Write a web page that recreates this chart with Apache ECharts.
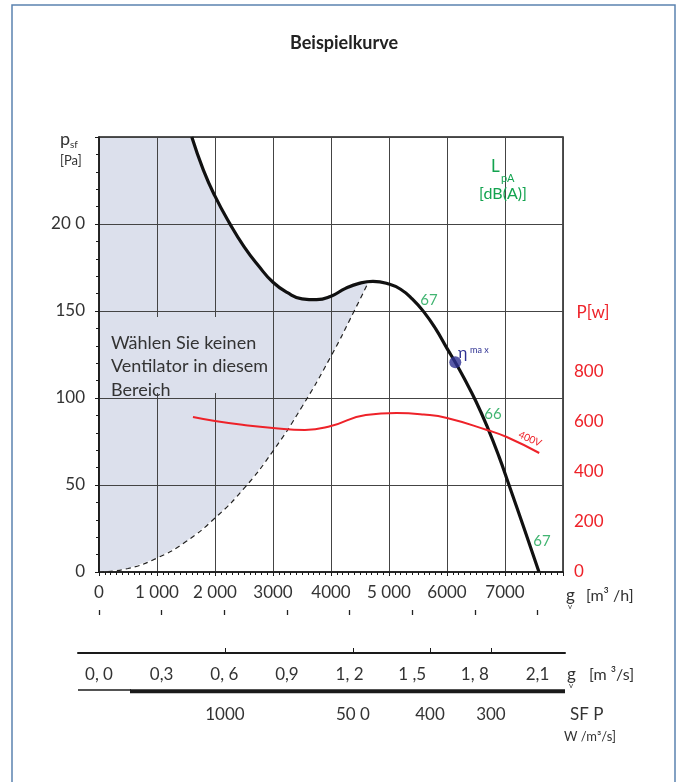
<!DOCTYPE html>
<html><head><meta charset="utf-8">
<script src="https://cdn.jsdelivr.net/npm/echarts@6/dist/echarts.min.js"></script>
<style>html,body{margin:0;padding:0;background:#fff}#c{width:682px;height:782px}</style>
</head><body><div id="c"></div>
<script>
// ---------- data ----------
const flowTickLabels = ['0', '1 000', '2 000', '3000', '4000', '5 000', '6000', '7000'];
const pressTickValues = [0, 50, 100, 150, 200];
const pressTickLabels = ['0', '50', '100', '150', '20 0'];
const powerTickValues = [0, 200, 400, 600, 800];

const fanFlow  = [1600, 1800, 2000, 2250, 2500, 2750, 3000, 3250, 3500, 3750, 4000, 4250, 4500, 4724, 5000, 5200, 5400, 5600, 5800, 6000, 6143, 6300, 6500, 6700, 6900, 7069, 7330, 7586];
const fanPress = [250, 231, 216, 200.5, 187, 176, 166.5, 160.5, 157, 156.5, 158.5, 163, 166, 167, 165.5, 162.5, 157, 149.5, 140, 128.5, 120.5, 111, 98, 83, 66, 50, 25, 0];

const limitFlow  = [0, 500, 1000, 1500, 2000, 2500, 3000, 3500, 4000, 4400, 4650];
const limitPress = [0, 2, 8, 17.5, 31, 48, 69.5, 95, 124, 150, 167];

const powerFlow = [1620, 2000, 2500, 3000, 3550, 4000, 4600, 5130, 5600, 6000, 6690, 7030, 7590];
const powerW    = [620, 604, 588, 576, 568, 584, 628, 636, 630, 616, 568, 540, 476];

const etaFlow = [6143];
const etaPress = [120.5];

const soundFlow  = [5690, 6793, 7638];
const soundPress = [156, 91, 18];
const soundLevel = ['67', '66', '67'];

const secFlowValues = [0, 0.3, 0.6, 0.9, 1.2, 1.5, 1.8, 2.1];
const secFlowLabels = ['0, 0', '0,3', '0, 6', '0,9', '1, 2', '1 ,5', '1, 8', '2,1'];

const sfpFlow   = [0.603, 1.216, 1.585, 1.877];
const sfpLabels = ['1000', '50 0', '400', '300'];

// ---------- layout ----------
const FONT = 'Lato, "Noto Sans", sans-serif';
const PL = 99, PR = 563, PT = 137, PB = 572;
const PW = PR - PL, PH = PB - PT;
const XMAX = 8000, YMAX = 250, PMAX_AXIS = 900;
const PX_PER_W = PH / 1740;
const SEC_MAX = XMAX / 3600;
const SFP_L = 78, SFP_R = 565;
const secPerPx = SEC_MAX / PW;
const sfpMin = -(PL - SFP_L) * secPerPx;
const sfpMax = SEC_MAX + (SFP_R - PR) * secPerPx;
const SHADE = '#dce0ec';
const GREEN = '#13a34f';
const RED = '#ee2229';
const BLUE = '#2e3192';
const TXT = '#333333';

const chart = echarts.init(document.getElementById('c'), null, {renderer: 'canvas'});

const zip = (a, b) => a.map((v, i) => [v, b[i]]);

const option = {
  animation: false,
  backgroundColor: '#fff',
  textStyle: {fontFamily: FONT},
  grid: [
    {left: PL, top: PT, width: PW, height: PH, show: true, borderColor: '#1a1a1a', borderWidth: 1.5, backgroundColor: 'transparent'},
    {left: PL, top: PB - PMAX_AXIS * PX_PER_W, width: PW, height: PMAX_AXIS * PX_PER_W},
    {left: PL, top: 600, width: PW, height: 10},
    {left: SFP_L, top: 640, width: SFP_R - SFP_L, height: 13}
  ],
  xAxis: [
    {gridIndex: 0, type: 'value', min: 0, max: XMAX, interval: 1000, z: 3,
     axisLine: {lineStyle: {color: '#1a1a1a', width: 1.5}},
     axisTick: {show: true, length: 4, lineStyle: {color: '#1a1a1a'}},
     minorTick: {show: true, splitNumber: 10, length: 3, lineStyle: {color: '#1a1a1a'}},
     splitLine: {show: true, lineStyle: {color: '#444', width: 1}},
     axisLabel: {margin: 12, fontSize: 17, color: TXT, fontFamily: FONT,
       formatter: v => { const i = Math.round(v / 1000); return (v % 1000 === 0 && i < flowTickLabels.length) ? flowTickLabels[i] : ''; }}},
    {gridIndex: 1, type: 'value', min: 0, max: XMAX, show: false},
    {gridIndex: 2, type: 'value', min: 0, max: SEC_MAX,
     axisLine: {show: false},
     axisTick: {show: true, length: 5, customValues: secFlowValues, lineStyle: {color: '#222', width: 1.3}},
     splitLine: {show: false},
     axisLabel: {margin: 56, fontSize: 17, color: TXT, fontFamily: FONT, customValues: secFlowValues,
       formatter: v => { const i = secFlowValues.findIndex(s => Math.abs(s - v) < 1e-6); return i >= 0 ? secFlowLabels[i] : ''; }}},
    {gridIndex: 3, type: 'value', min: sfpMin, max: sfpMax,
     axisLine: {lineStyle: {color: '#1a1a1a', width: 2}},
     axisTick: {show: true, inside: true, length: 5, customValues: sfpFlow, lineStyle: {color: '#1a1a1a'}},
     splitLine: {show: false},
     axisLabel: {margin: 53, fontSize: 17, color: TXT, fontFamily: FONT, customValues: sfpFlow,
       formatter: v => { const i = sfpFlow.findIndex(s => Math.abs(s - v) < 1e-6); return i >= 0 ? sfpLabels[i] : ''; }}}
  ],
  yAxis: [
    {gridIndex: 0, type: 'value', min: 0, max: YMAX, interval: 50, z: 3,
     axisLine: {show: true, lineStyle: {color: '#1a1a1a', width: 1.5}},
     axisTick: {show: true, length: 4, lineStyle: {color: '#1a1a1a'}},
     minorTick: {show: true, splitNumber: 5, length: 3, lineStyle: {color: '#1a1a1a'}},
     splitLine: {show: true, lineStyle: {color: '#444', width: 1}},
     axisLabel: {margin: 14, fontSize: 17, color: TXT, fontFamily: FONT,
       formatter: v => { const i = pressTickValues.indexOf(v); return i >= 0 ? pressTickLabels[i] : ''; }}},
    {gridIndex: 1, type: 'value', position: 'right', min: 0, max: PMAX_AXIS, interval: 100,
     axisLine: {show: true, lineStyle: {color: '#1a1a1a', width: 1.5}},
     axisTick: {show: true, length: 4, lineStyle: {color: '#1a1a1a'}},
     minorTick: {show: true, splitNumber: 5, length: 3, lineStyle: {color: '#1a1a1a'}},
     splitLine: {show: false},
     axisLabel: {margin: 11, fontSize: 17, color: RED, fontFamily: FONT,
       formatter: v => powerTickValues.indexOf(v) >= 0 ? String(v) : ''}},
    {gridIndex: 2, type: 'value', show: false},
    {gridIndex: 3, type: 'value', show: false}
  ],
  series: [
    {type: 'custom', xAxisIndex: 0, yAxisIndex: 0, z: 1, silent: true, data: [[0, 0]],
     renderItem: (params, api) => {
       const pts = [];
       for (let i = 0; i < limitFlow.length; i++) pts.push(api.coord([limitFlow[i], limitPress[i]]));
       const lastFlow = limitFlow[limitFlow.length - 1];
       for (let i = fanFlow.length - 1; i >= 0; i--) {
         if (fanFlow[i] < lastFlow) pts.push(api.coord([fanFlow[i], Math.min(fanPress[i], YMAX)]));
       }
       pts.push(api.coord([0, YMAX]));
       return {type: 'polygon', shape: {points: pts}, style: {fill: SHADE}};
     }},
    {type: 'line', xAxisIndex: 0, yAxisIndex: 0, z: 4, data: zip(limitFlow, limitPress), smooth: 0.5, symbol: 'none',
     lineStyle: {color: '#222', width: 1.2, type: [5, 4]}},
    {type: 'line', xAxisIndex: 0, yAxisIndex: 0, z: 5, data: zip(fanFlow, fanPress), smooth: 0.5, symbol: 'none',
     lineStyle: {color: '#111', width: 3.2}},
    {type: 'line', xAxisIndex: 1, yAxisIndex: 1, z: 5, data: zip(powerFlow, powerW), smooth: 0.5, symbol: 'none',
     lineStyle: {color: RED, width: 2}},
    {type: 'scatter', xAxisIndex: 0, yAxisIndex: 0, z: 6, data: zip(etaFlow, etaPress), symbolSize: 12,
     itemStyle: {color: BLUE}},
    {type: 'scatter', xAxisIndex: 0, yAxisIndex: 0, z: 6, data: zip(soundFlow, soundPress), symbolSize: 1,
     itemStyle: {color: 'rgba(0,0,0,0)'},
     label: {show: true, position: 'inside', color: GREEN, fontSize: 15, fontFamily: FONT,
       formatter: p => soundLevel[p.dataIndex]}}
  ],
  graphic: [
    {type: 'rect', z: 0, shape: {x: 12, y: 5, width: 663, height: 800}, style: {fill: 'none', stroke: '#5b82b0', lineWidth: 1.5}},
    {type: 'text', z: 10, style: {x: 344, y: 43, text: 'Beispielkurve', align: 'center', verticalAlign: 'middle', font: 'bold 18px ' + FONT, fill: '#222'}},
    {type: 'text', z: 10, style: {x: 60, y: 139, text: 'p', verticalAlign: 'middle', font: '18px ' + FONT, fill: TXT}},
    {type: 'text', z: 10, style: {x: 70, y: 145, text: 'sf', verticalAlign: 'middle', font: '10px ' + FONT, fill: TXT}},
    {type: 'text', z: 10, style: {x: 60, y: 161, text: '[Pa]', verticalAlign: 'middle', font: '13px ' + FONT, fill: TXT}},
    {type: 'text', z: 10, style: {x: 491, y: 167, text: 'L', verticalAlign: 'middle', font: '17px ' + FONT, fill: GREEN}},
    {type: 'text', z: 10, style: {x: 501, y: 178, text: 'pA', verticalAlign: 'middle', font: '11px ' + FONT, fill: GREEN}},
    {type: 'text', z: 10, style: {x: 503, y: 194, text: '[dB(A)]', align: 'center', verticalAlign: 'middle', font: '16px ' + FONT, fill: GREEN}},
    {type: 'text', z: 10, style: {x: 593, y: 313, text: 'P[w]', align: 'center', verticalAlign: 'middle', font: '17px ' + FONT, fill: RED}},
    {type: 'text', z: 10, rotation: -0.42, x: 530, y: 439, style: {x: 0, y: 0, text: '400V', align: 'center', verticalAlign: 'middle', font: '10px ' + FONT, fill: RED}},
    {type: 'text', z: 10, style: {x: 458, y: 353, text: 'η', verticalAlign: 'middle', font: '16px ' + FONT, fill: BLUE}},
    {type: 'text', z: 10, style: {x: 470, y: 350, text: 'ma x', verticalAlign: 'middle', font: '9px ' + FONT, fill: BLUE}},
    {type: 'rect', z: 8, shape: {x: 104, y: 317, width: 165, height: 76}, style: {fill: SHADE}},
    {type: 'text', z: 10, style: {x: 111, y: 331, text: 'Wählen Sie keinen\nVentilator in diesem\nBereich', verticalAlign: 'top', lineHeight: 23.5, font: '18px ' + FONT, fill: TXT}},
    {type: 'text', z: 10, style: {x: 566, y: 596, text: 'g', verticalAlign: 'middle', font: '17px ' + FONT, fill: TXT}},
    {type: 'text', z: 10, style: {x: 568, y: 606, text: 'v', verticalAlign: 'middle', font: '8px ' + FONT, fill: TXT}},
    {type: 'text', z: 10, style: {x: 586, y: 596, text: '[m³ /h]', verticalAlign: 'middle', font: '16px ' + FONT, fill: TXT}},
    {type: 'text', z: 10, style: {x: 567, y: 675, text: 'g', verticalAlign: 'middle', font: '17px ' + FONT, fill: TXT}},
    {type: 'text', z: 10, style: {x: 569, y: 685, text: 'v', verticalAlign: 'middle', font: '8px ' + FONT, fill: TXT}},
    {type: 'text', z: 10, style: {x: 589, y: 675, text: '[m ³/s]', verticalAlign: 'middle', font: '16px ' + FONT, fill: TXT}},
    {type: 'text', z: 10, style: {x: 570, y: 715, text: 'SF P', verticalAlign: 'middle', font: '17px ' + FONT, fill: TXT}},
    {type: 'text', z: 10, style: {x: 564, y: 737, text: 'W /m³/s]', verticalAlign: 'middle', font: '13px ' + FONT, fill: TXT}},
    {type: 'line', z: 10, shape: {x1: SFP_L, y1: 690, x2: 131, y2: 690}, style: {stroke: '#1a1a1a', lineWidth: 1.6}},
    {type: 'line', z: 10, shape: {x1: 130, y1: 691.2, x2: SFP_R, y2: 691.2}, style: {stroke: '#1a1a1a', lineWidth: 4}}
  ]
};
chart.setOption(option);
</script>
</body></html>
